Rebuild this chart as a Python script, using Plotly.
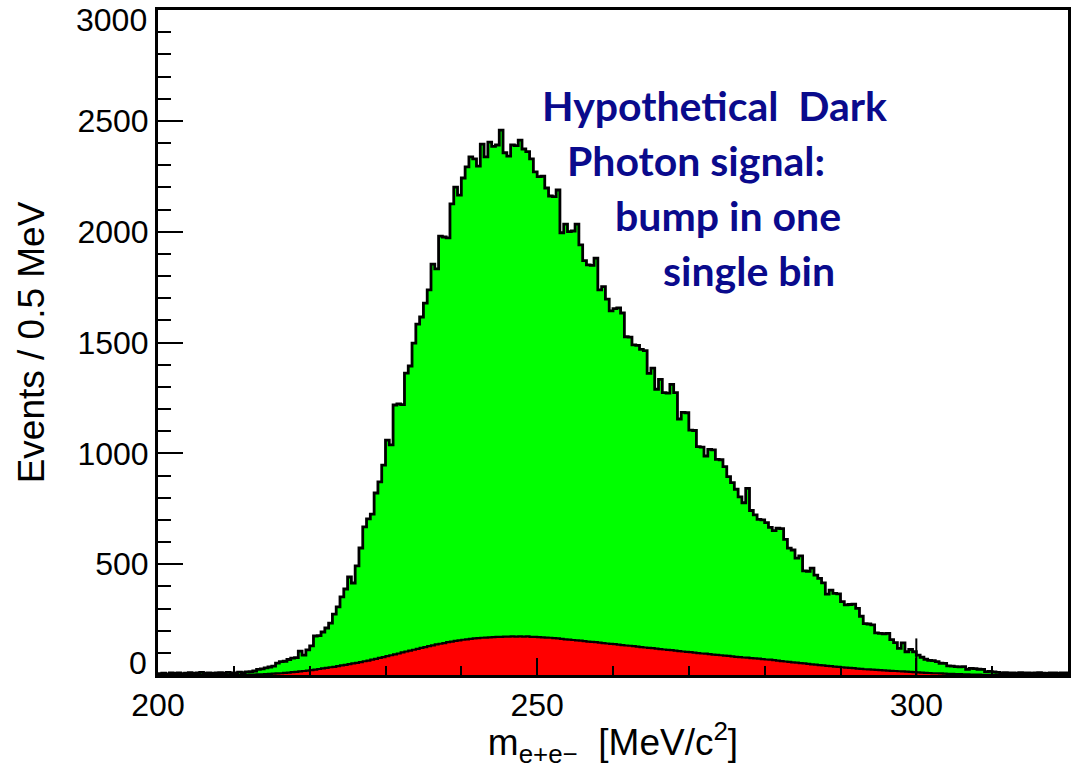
import plotly.graph_objects as go

# ---- data: 0.5 MeV bins from 200 to 320 MeV ----
bin_start = 200.0
bin_width = 0.5

total_counts = [
    6, 8, 5, 9, 7, 10, 6, 8, 11, 7,
    9, 12, 8, 10, 7, 9, 11, 8, 12, 10,
    9, 13, 11, 14, 15, 18, 25, 28, 32, 36,
    40, 54, 60, 62, 70, 76, 78, 108, 90, 113,
    131, 176, 178, 194, 212, 234, 275, 307, 352, 388,
    442, 415, 492, 573, 668, 704, 726, 821, 871, 947,
    1060, 1038, 1218, 1223, 1220, 1362, 1394, 1497, 1583, 1615,
    1678, 1737, 1854, 1832, 1980, 1976, 1972, 2125, 2201, 2165,
    2242, 2292, 2337, 2328, 2296, 2395, 2337, 2404, 2385, 2391,
    2458, 2356, 2341, 2391, 2388, 2413, 2373, 2361, 2328, 2270,
    2248, 2250, 2197, 2161, 2158, 2188, 1995, 2034, 2000, 2003,
    2034, 1940, 1869, 1850, 1848, 1881, 1737, 1752, 1696, 1643,
    1653, 1656, 1633, 1526, 1524, 1489, 1487, 1469, 1463, 1361,
    1384, 1289, 1334, 1274, 1272, 1311, 1274, 1155, 1185, 1183,
    1105, 1103, 1030, 1028, 988, 1018, 1016, 973, 971, 940,
    895, 868, 838, 804, 777, 842, 742, 722, 702, 700,
    687, 666, 651, 662, 660, 612, 572, 564, 527, 537,
    470, 468, 482, 451, 436, 416, 365, 383, 368, 366,
    331, 316, 318, 320, 301, 265, 232, 230, 226, 190,
    188, 186, 188, 160, 146, 120, 145, 105, 115, 105,
    90, 80, 71, 66, 65, 60, 53, 52, 41, 40,
    38, 37, 38, 26, 30, 29, 26, 25, 15, 16,
    14, 12, 10, 11, 9, 10, 8, 11, 9, 10,
    8, 9, 11, 8, 7, 9, 10, 8, 9, 10,
]

background_counts = [
    0, 0, 0, 0, 0, 0, 0, 0, 0, 0,
    0, 0, 0, 0, 0, 0, 0, 0, 0, 0,
    0, 0, 1, 1, 2, 2, 3, 3, 4, 5,
    6, 7, 8, 10, 11, 13, 14, 16, 18, 20,
    22, 24, 27, 30, 32, 35, 37, 40, 43, 46,
    49, 52, 55, 58, 62, 65, 69, 73, 77, 81,
    85, 89, 93, 97, 102, 106, 110, 114, 118, 122,
    126, 130, 134, 138, 141, 144, 148, 151, 154, 156,
    159, 161, 163, 165, 166, 168, 169, 170, 171, 172,
    172, 173, 173, 174, 173, 174, 173, 174, 172, 172,
    171, 170, 169, 168, 166, 165, 163, 161, 160, 158,
    156, 155, 153, 151, 149, 148, 146, 144, 142, 140,
    139, 137, 135, 133, 132, 130, 128, 126, 124, 122,
    121, 119, 117, 115, 113, 112, 110, 108, 106, 104,
    103, 101, 99, 97, 96, 94, 92, 91, 89, 87,
    86, 84, 82, 81, 79, 78, 76, 75, 74, 72,
    70, 69, 67, 65, 63, 61, 59, 57, 56, 54,
    52, 50, 48, 47, 45, 43, 41, 40, 38, 37,
    35, 33, 32, 31, 29, 28, 26, 25, 24, 23,
    22, 21, 20, 19, 18, 17, 16, 15, 14, 13,
    12, 11, 10, 9, 8, 8, 7, 6, 5, 5,
    4, 4, 3, 3, 2, 2, 2, 1, 1, 1,
    1, 0, 0, 0, 0, 0, 0, 0, 0, 0,
    0, 0, 0, 0, 0, 0, 0, 0, 0, 0,
]

spike_mass = [300.0]
spike_count = [165]

y_inner_ticks = [500, 1000, 1500, 2000, 2500]
edge_labels = ["0", "3000"]
annotation_lines = ["Hypothetical  Dark", "Photon signal:", "bump in one", "single bin"]

# ---- build step outlines ----
n = len(total_counts)
edges = [bin_start + bin_width * i for i in range(n + 1)]
tot_y = total_counts + [total_counts[-1]]
bkg_y = background_counts + [background_counts[-1]]

fig = go.Figure()
fig.add_trace(go.Scatter(
    x=edges, y=tot_y, mode="lines", line=dict(shape="hv", color="black", width=2.8),
    fill="tozeroy", fillcolor="#00ff00", hoverinfo="skip", showlegend=False))
fig.add_trace(go.Scatter(
    x=edges, y=bkg_y, mode="lines", line=dict(shape="hv", color="black", width=2.2),
    fill="tozeroy", fillcolor="#ff0000", hoverinfo="skip", showlegend=False))
fig.add_trace(go.Scatter(
    x=[spike_mass[0], spike_mass[0]], y=[0, spike_count[0]], mode="lines",
    line=dict(color="black", width=2), hoverinfo="skip", showlegend=False))

tick_font = dict(family="Liberation Sans, Arial, sans-serif", size=32, color="black")
title_font = dict(family="Liberation Sans, Arial, sans-serif", size=37, color="black")

fig.update_xaxes(
    range=[200, 320], tick0=200, dtick=50, ticks="inside", ticklen=17, tickwidth=2,
    tickcolor="black", showline=True, linewidth=3, linecolor="black", mirror=True,
    showgrid=False, zeroline=False, tickfont=tick_font,
    minor=dict(dtick=10, ticks="inside", ticklen=9, tickwidth=2, tickcolor="black", showgrid=False),
    title=dict(text="m<sub>e+e\u2212</sub>  [MeV/c<sup>2</sup>]", font=title_font, standoff=3),
)
fig.update_yaxes(
    range=[0, 3000], tickmode="array", tickvals=y_inner_ticks,
    ticks="inside", ticklen=25, tickwidth=2,
    tickcolor="black", showline=True, linewidth=3, linecolor="black", mirror=True,
    showgrid=False, zeroline=False, tickfont=tick_font,
    minor=dict(tickmode="linear", tick0=0, dtick=100, ticks="inside", ticklen=13,
               tickwidth=2, tickcolor="black", showgrid=False),
    title=dict(text="Events / 0.5 MeV", font=title_font, standoff=22),
)

# end labels of the y axis, pulled inside the frame as in the original
for lbl, py in zip(edge_labels, [663, 20]):
    fig.add_annotation(
        text=lbl, x=(149 - 158) / 913, y=(675 - py) / 665, xref="paper", yref="paper",
        xanchor="right", yanchor="middle", showarrow=False, font=tick_font)

ann_x = [0.4195, 0.4469, 0.5005, 0.5531]
ann_y = [0.857, 0.7744, 0.6917, 0.609]
for txt, ax_, ay_ in zip(annotation_lines, ann_x, ann_y):
    fig.add_annotation(
        text="<b>" + txt + "</b>", x=ax_, y=ay_, xref="paper", yref="paper",
        xanchor="left", yanchor="middle", showarrow=False,
        font=dict(family="Lato, Open Sans, sans-serif", size=41, color="#0a0a8c"))

fig.update_layout(
    width=1075, height=768,
    margin=dict(l=158, r=4, t=10, b=93),
    paper_bgcolor="white", plot_bgcolor="white",
)

fig.write_html("out.html")
